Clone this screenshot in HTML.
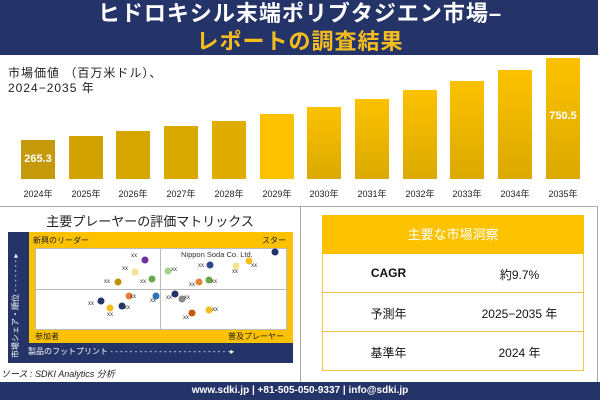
<!DOCTYPE html>
<html><head><meta charset="utf-8"><style>
*{margin:0;padding:0;box-sizing:border-box}
body{width:600px;height:400px;position:relative;background:#fff;font-family:"Liberation Sans","Noto Sans CJK JP",sans-serif;overflow:hidden}
.a{position:absolute}
.bar{position:absolute;width:34px;bottom:221px}
.yl{position:absolute;top:187px;width:48px;text-align:center;font-size:9px;color:#222}
.dot{position:absolute;width:7px;height:7px;border-radius:50%;transform:translate(-3.5px,-3.5px)}
.xx{position:absolute;font-size:6px;color:#333;transform:translate(-4px,-3px)}
.row{position:absolute;left:322px;width:262px;height:39px;border:1px solid #f5c542;border-top:none;font-size:12px;color:#111}
.row span{position:absolute;top:12px;text-align:center}
</style></head><body>
<div class="a" style="left:0;top:0;width:598px;height:55px;background:#253468"></div>
<div class="a" style="left:0;top:0;width:600px;text-align:center;font-size:22px;font-weight:bold;color:#fff;top:0;line-height:28px;letter-spacing:1px">ヒドロキシル末端ポリブタジエン市場–</div>
<div class="a" style="left:0;width:600px;text-align:center;font-size:22px;font-weight:bold;color:#f7bd1f;top:28px;line-height:28px;letter-spacing:1px">レポートの調査結果</div>
<div class="a" style="left:8px;top:66px;font-size:12px;line-height:15px;color:#222;letter-spacing:1px">市場価値 （百万米ドル）、<br>2024−2035 年</div>

<div class="bar" style="left:21px;top:140px;background:#c49a0a"></div>
<div class="bar" style="left:69px;top:136px;background:#d2a300"></div>
<div class="bar" style="left:116px;top:131px;background:#d6a600"></div>
<div class="bar" style="left:164px;top:126px;background:#daa900"></div>
<div class="bar" style="left:212px;top:121px;background:#dfad00"></div>
<div class="bar" style="left:260px;top:114px;background:#fcc200"></div>
<div class="bar" style="left:307px;top:107px;background:linear-gradient(#fcc200,#dba900)"></div>
<div class="bar" style="left:355px;top:99px;background:linear-gradient(#fcc200,#dba900)"></div>
<div class="bar" style="left:403px;top:90px;background:linear-gradient(#fcc200,#dba900)"></div>
<div class="bar" style="left:450px;top:81px;background:linear-gradient(#fcc200,#dba900)"></div>
<div class="bar" style="left:498px;top:70px;background:linear-gradient(#fcc200,#dba900)"></div>
<div class="bar" style="left:546px;top:58px;background:linear-gradient(#fcc200,#dba900)"></div>
<div class="a" style="left:21px;top:153px;width:34px;text-align:center;color:#fff;font-weight:bold;font-size:11px">265.3</div>
<div class="a" style="left:546px;top:110px;width:34px;text-align:center;color:#fff;font-weight:bold;font-size:11px">750.5</div>
<div class="yl" style="left:14px">2024年</div><div class="yl" style="left:62px">2025年</div><div class="yl" style="left:109px">2026年</div><div class="yl" style="left:157px">2027年</div><div class="yl" style="left:205px">2028年</div><div class="yl" style="left:253px">2029年</div><div class="yl" style="left:300px">2030年</div><div class="yl" style="left:348px">2031年</div><div class="yl" style="left:396px">2032年</div><div class="yl" style="left:443px">2033年</div><div class="yl" style="left:491px">2034年</div><div class="yl" style="left:539px">2035年</div>

<div class="a" style="left:0;top:206px;width:598px;height:1px;background:#aaa"></div>
<div class="a" style="left:300px;top:206px;width:1px;height:176px;background:#aaa"></div>
<div class="a" style="left:597px;top:206px;width:1px;height:176px;background:#aaa"></div>

<div class="a" style="left:0;top:211px;width:300px;text-align:center;font-size:13px;color:#222">主要プレーヤーの評価マトリックス</div>
<div class="a" style="left:8px;top:232px;width:285px;height:131px;background:#253468"></div>
<div class="a" style="left:29px;top:232px;width:264px;height:111px;background:#fcc200"></div>
<div class="a" style="left:35px;top:248px;width:252px;height:82px;background:#fff;border:1px solid #bbb"></div>
<div class="a" style="left:160px;top:248px;width:1px;height:82px;background:#bbb"></div>
<div class="a" style="left:35px;top:289px;width:252px;height:1px;background:#bbb"></div>
<div class="a" style="left:33px;top:235px;font-size:8px;color:#222">新興のリーダー</div>
<div class="a" style="left:262px;top:235px;font-size:8px;color:#222">スター</div>
<div class="a" style="left:35px;top:331px;font-size:8px;color:#222">参加者</div>
<div class="a" style="left:228px;top:331px;font-size:8px;color:#222">普及プレーヤー</div>
<div class="a" style="left:28px;top:346px;font-size:8px;color:#fff;white-space:nowrap">製品のフットプリント - - - - - - - - - - - - - - - - - - - - - - - - -▸</div>
<div class="a" style="left:10px;top:358px;font-size:8px;color:#fff;transform:rotate(-90deg);transform-origin:0 0;white-space:nowrap">市場シェア・順位 - - - - - - - ▸</div>
<div class="a" style="left:181px;top:250px;font-size:7.5px;color:#333">Nippon Soda Co. Ltd.</div>

<div class="dot" style="left:275px;top:252px;background:#253468"></div>
<div class="dot" style="left:249px;top:261px;background:#f7bd1f"></div><div class="xx" style="left:255px;top:266px">xx</div>
<div class="dot" style="left:236px;top:266px;background:#f9e08a"></div><div class="xx" style="left:236px;top:272px">xx</div>
<div class="dot" style="left:210px;top:265px;background:#2c4a8a"></div><div class="xx" style="left:202px;top:266px">xx</div>
<div class="dot" style="left:209px;top:280px;background:#6aa84f"></div><div class="xx" style="left:215px;top:282px">xx</div>
<div class="dot" style="left:199px;top:282px;background:#e8803a"></div><div class="xx" style="left:193px;top:285px">xx</div>
<div class="dot" style="left:168px;top:271px;background:#a8d08d"></div><div class="xx" style="left:175px;top:270px">xx</div>
<div class="dot" style="left:145px;top:260px;background:#7030a0"></div><div class="xx" style="left:135px;top:256px">xx</div>
<div class="dot" style="left:135px;top:272px;background:#f9e08a"></div><div class="xx" style="left:126px;top:269px">xx</div>
<div class="dot" style="left:118px;top:282px;background:#bf9000"></div><div class="xx" style="left:108px;top:282px">xx</div>
<div class="dot" style="left:152px;top:279px;background:#6aa84f"></div><div class="xx" style="left:144px;top:282px">xx</div>
<div class="dot" style="left:156px;top:296px;background:#2e75b6"></div><div class="xx" style="left:154px;top:301px">xx</div>
<div class="dot" style="left:129px;top:296px;background:#e8803a"></div><div class="xx" style="left:134px;top:297px">xx</div>
<div class="dot" style="left:101px;top:301px;background:#253468"></div><div class="xx" style="left:92px;top:304px">xx</div>
<div class="dot" style="left:110px;top:308px;background:#f7bd1f"></div><div class="xx" style="left:111px;top:315px">xx</div>
<div class="dot" style="left:122px;top:306px;background:#253468"></div><div class="xx" style="left:128px;top:308px">xx</div>
<div class="dot" style="left:175px;top:294px;background:#253468"></div><div class="xx" style="left:170px;top:298px">xx</div>
<div class="dot" style="left:182px;top:299px;background:#888"></div><div class="xx" style="left:188px;top:298px">xx</div>
<div class="dot" style="left:192px;top:313px;background:#c55a11"></div><div class="xx" style="left:187px;top:318px">xx</div>
<div class="dot" style="left:209px;top:310px;background:#f7bd1f"></div><div class="xx" style="left:216px;top:310px">xx</div>
<div class="a" style="left:1px;top:367px;font-size:9px;font-style:italic;color:#222">ソース : SDKI Analytics 分析</div>

<div class="a" style="left:322px;top:215px;width:262px;height:39px;background:#fcc200;color:#fff;font-size:13px;text-align:center;line-height:39px">主要な市場洞察</div>
<div class="row" style="top:254px;font-weight:bold"><span style="left:0;width:131px">CAGR</span><span style="left:131px;width:131px;font-weight:normal">約9.7%</span></div>
<div class="row" style="top:293px"><span style="left:0;width:131px">予測年</span><span style="left:131px;width:131px">2025−2035 年</span></div>
<div class="row" style="top:332px"><span style="left:0;width:131px">基準年</span><span style="left:131px;width:131px">2024 年</span></div>

<div class="a" style="left:0;top:382px;width:600px;height:18px;background:#253468;color:#fff;font-size:10px;font-weight:bold;text-align:center;line-height:18px">www.sdki.jp | +81-505-050-9337 | info@sdki.jp</div>
</body></html>
